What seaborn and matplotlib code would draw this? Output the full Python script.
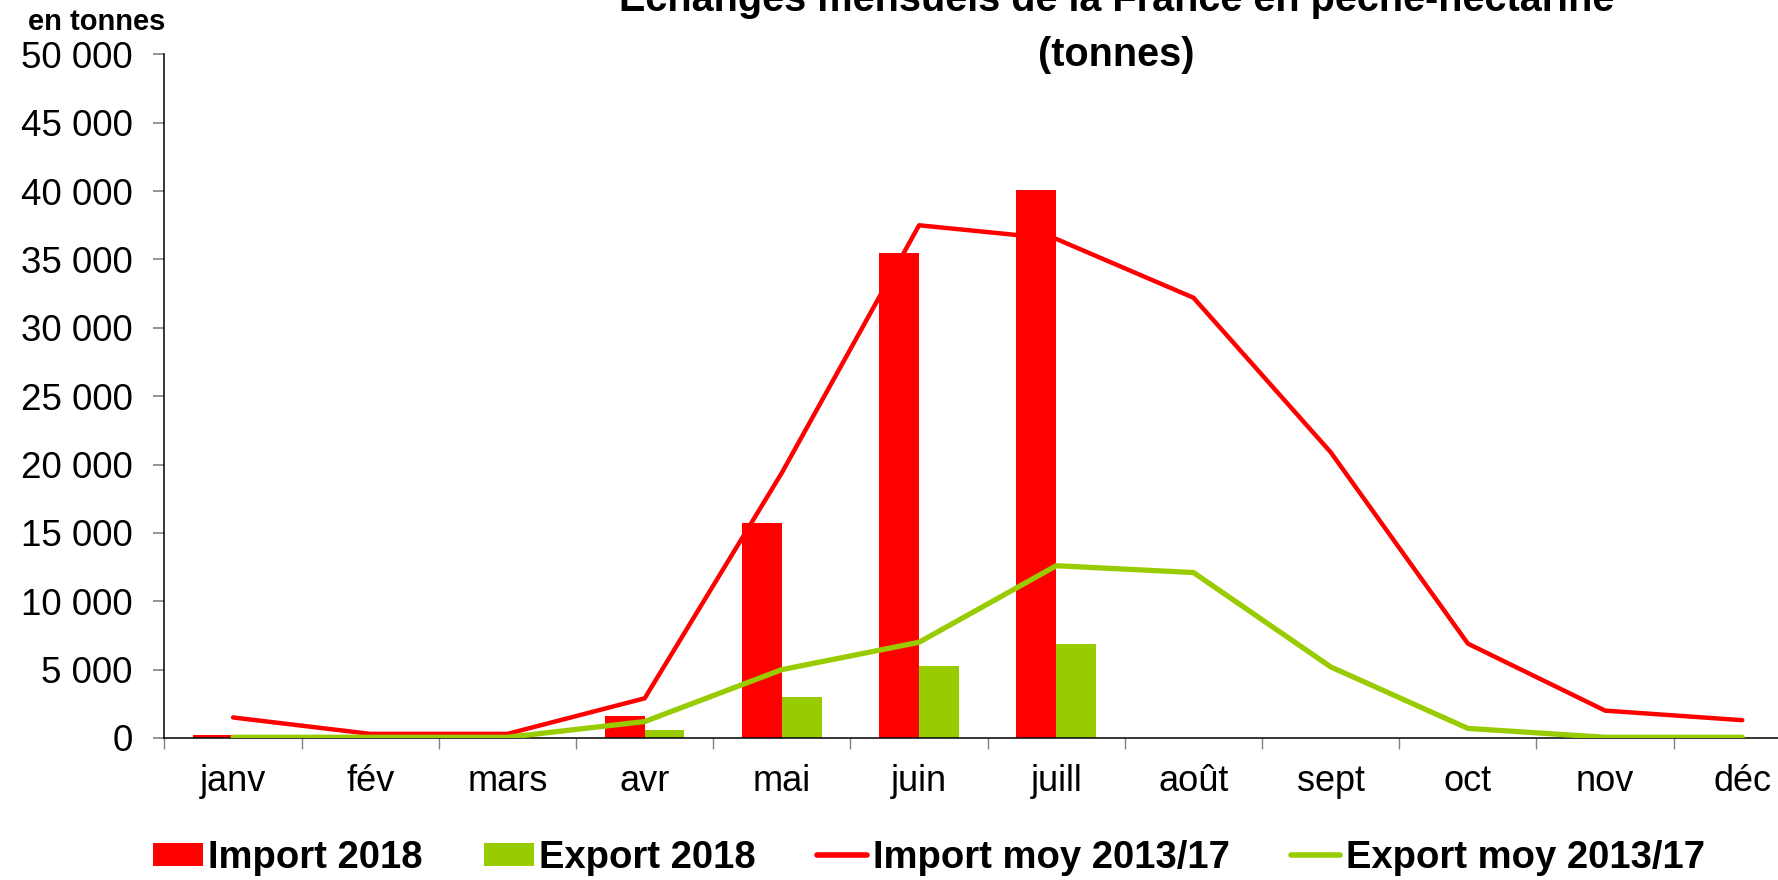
import numpy as np
import pandas as pd
import seaborn as sns
import matplotlib
matplotlib.use("Agg")
import matplotlib.pyplot as plt
from matplotlib.patches import Patch
from matplotlib.lines import Line2D
from matplotlib.ticker import FuncFormatter, MultipleLocator, FixedLocator

months = ["janv", "fév", "mars", "avr", "mai", "juin", "juill", "août", "sept", "oct", "nov", "déc"]
import_2018 = [200, 0, 0, 1600, 15700, 35500, 40100, np.nan, np.nan, np.nan, np.nan, np.nan]
export_2018 = [0, 0, 0, 600, 3000, 5300, 6900, np.nan, np.nan, np.nan, np.nan, np.nan]
import_moy = [1500, 300, 300, 2900, 19400, 37500, 36500, 32200, 20900, 6900, 2000, 1300]
export_moy = [50, 50, 50, 1200, 5000, 7000, 12600, 12100, 5200, 700, 50, 50]

series_bars = ["Import 2018", "Export 2018"]
series_lines = ["Import moy 2013/17", "Export moy 2013/17"]
title = "Echanges mensuels de la France en pêche-nectarine\n(tonnes)"
ylabel = "en tonnes"

RED = "#FF0000"
GREEN = "#99CC00"

sns.set_theme(style="white")
plt.rcParams["font.family"] = ["Liberation Sans", "DejaVu Sans"]
plt.rcParams["text.color"] = "black"

fig = plt.figure(figsize=(17.78, 8.80), dpi=100)
ax = fig.add_axes([0.0925, 0.1614, 0.926, 0.7768])

bars_df = pd.DataFrame({
    "mois": months * 2,
    "valeur": import_2018 + export_2018,
    "serie": [series_bars[0]] * 12 + [series_bars[1]] * 12,
})

sns.barplot(data=bars_df, x="mois", y="valeur", hue="serie", order=months,
            hue_order=series_bars, palette=[RED, GREEN], saturation=1, width=0.58,
            errorbar=None, linewidth=0, legend=False, ax=ax, zorder=2)

sns.pointplot(x=months, y=import_moy, order=months, color=RED, markers="",
              linestyles="-", linewidth=3.2, errorbar=None, ax=ax,
              solid_capstyle="round", zorder=3)
sns.pointplot(x=months, y=export_moy, order=months, color=GREEN, markers="",
              linestyles="-", linewidth=3.8, errorbar=None, ax=ax,
              solid_capstyle="round", zorder=3)

ax.set_xlim(-0.5, 11.5)
ax.set_ylim(0, 50000)
ax.yaxis.set_major_locator(MultipleLocator(5000))
ax.yaxis.set_major_formatter(FuncFormatter(lambda v, p: f"{int(v):,}".replace(",", " ")))
ax.set_xlabel("")
ax.set_ylabel("")
ax.grid(False)

for s in ["top", "right"]:
    ax.spines[s].set_visible(False)
for s in ["left", "bottom"]:
    ax.spines[s].set_color("black")
    ax.spines[s].set_linewidth(1.1)

ax.xaxis.set_minor_locator(FixedLocator(np.arange(-0.5, 12, 1)))
ax.tick_params(axis="x", which="major", length=0, pad=19, labelsize=26, labelcolor="black")
ax.tick_params(axis="x", which="minor", length=8, width=1, color="#808080", direction="out", bottom=True)
ax.tick_params(axis="y", which="major", length=8, width=1.2, color="#808080", direction="out",
               left=True, pad=15, labelsize=26.5, labelcolor="black")

fig.text(0.0545, 0.975, ylabel, ha="center", va="center", fontsize=21, fontweight="bold",
         color="black")
fig.text(0.628, 0.969, title, ha="center", va="center", fontsize=28.5, fontweight="bold",
         linespacing=1.58, color="black")

handles = [
    Patch(facecolor=RED, edgecolor="none"),
    Patch(facecolor=GREEN, edgecolor="none"),
    Line2D([], [], color=RED, lw=4, solid_capstyle="round"),
    Line2D([], [], color=GREEN, lw=4, solid_capstyle="round"),
]
labels = series_bars + series_lines
leg = fig.legend(handles, labels, loc="center", bbox_to_anchor=(0.5225, 0.025), ncol=4,
                 frameon=False, handlelength=1.3, handleheight=0.55,
                 handletextpad=0.15, columnspacing=1.6, borderpad=0, borderaxespad=0,
                 prop={"weight": "bold", "size": 27.5})
for t in leg.get_texts():
    t.set_color("black")

fig.savefig("out.png", dpi=100)
